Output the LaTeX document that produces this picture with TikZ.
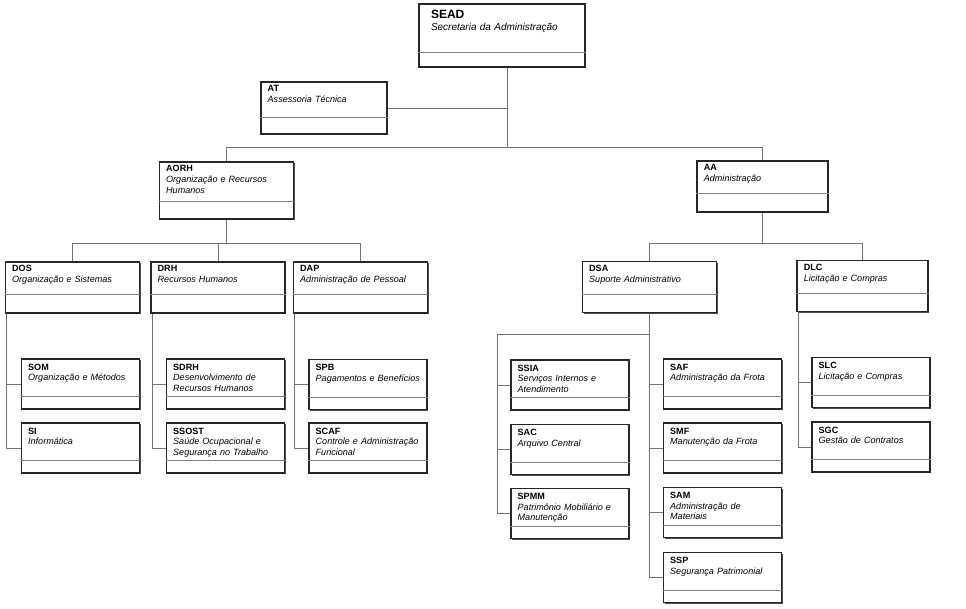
\documentclass[tikz,border=0pt]{standalone}
\usepackage{fontspec}
\setmainfont{Liberation Sans}
\usetikzlibrary{shadows}
\hyphenpenalty=10000
\exhyphenpenalty=10000
\newcommand{\orgunit}[2]{\textbf{#1}\\\textit{#2}}

\begin{document}
\begin{tikzpicture}[x=0.75pt, y=-0.75pt,
  unit/.style={draw=black!85, line width=1.1pt, fill=white, align=left,
    drop shadow={shadow xshift=1.1pt, shadow yshift=-1.1pt, fill=black!70, opacity=1},
    inner xsep=5pt, inner ysep=2pt, font=\fontsize{6.8}{8}\selectfont},
  div/.style={unit, text width=90.5pt, text height=5.5pt, text depth=28.75pt},
  sect/.style={unit, text width=78.5pt, text height=6.25pt, text depth=27.25pt},
  link/.style={draw=black!55, line width=0.6pt},
  sepline/.style={draw=black!50, line width=0.5pt}]
\useasboundingbox (0,0) rectangle (966,609);

% Top level
\node[unit, line width=1.8pt, inner xsep=9pt, text width=106.5pt, text height=9.25pt, text depth=34pt,
  font=\fontsize{7.5}{9}\selectfont] (SEAD) at (502,35.5)
  {\textbf{\fontsize{9}{9}\selectfont SEAD}\\\textit{Secretaria da Administração}};
\node[div, text width=84.5pt, text depth=29.5pt] (AT) at (324,108) {\orgunit{AT}{Assessoria Técnica}};
\node[div, text depth=33.25pt] (AORH) at (226.5,190.5) {\orgunit{AORH}{Organização e Recursos\\Humanos}};
\node[div, text width=88pt] (AA) at (762.5,186.5) {\orgunit{AA}{Administração}};

% AORH branch
\node[div] (DOS) at (72.5,287.5) {\orgunit{DOS}{Organização e Sistemas}};
\node[div] (DRH) at (218,287.5) {\orgunit{DRH}{Recursos Humanos}};
\node[div] (DAP) at (360.5,287.5) {\orgunit{DAP}{Administração de Pessoal}};
\node[sect] (SOM) at (80.5,384) {\orgunit{SOM}{Organização e Métodos}};
\node[sect] (SI) at (80.5,448) {\orgunit{SI}{Informática}};
\node[sect] (SDRH) at (225.5,384) {\orgunit{SDRH}{Desenvolvimento de\\Recursos Humanos}};
\node[sect] (SSOST) at (225.5,448) {\orgunit{SSOST}{Saúde Ocupacional e\\Segurança no Trabalho}};
\node[sect] (SPB) at (368,384.5) {\orgunit{SPB}{Pagamentos e Benefícios}};
\node[sect] (SCAF) at (368,448) {\orgunit{SCAF}{Controle e Administração\\Funcional}};

% AA branch
\node[div] (DSA) at (649.5,287) {\orgunit{DSA}{Suporte Administrativo}};
\node[div, text width=88pt] (DLC) at (862.5,286) {\orgunit{DLC}{Licitação e Compras}};
\node[sect] (SSIA) at (570,385) {\orgunit{SSIA}{Serviços Internos e\\Atendimento}};
\node[sect] (SAC) at (570,449.5) {\orgunit{SAC}{Arquivo Central}};
\node[sect] (SPMM) at (570,513.5) {\orgunit{SPMM}{Patrimônio Mobiliário e\\Manutenção}};
\node[sect] (SAF) at (722.5,384) {\orgunit{SAF}{Administração da Frota}};
\node[sect] (SMF) at (722.5,448) {\orgunit{SMF}{Manutenção da Frota}};
\node[sect] (SAM) at (722.5,512.5) {\orgunit{SAM}{Administração de\\Materiais}};
\node[sect] (SSP) at (722.5,577.5) {\orgunit{SSP}{Segurança Patrimonial}};
\node[sect] (SLC) at (871,382.5) {\orgunit{SLC}{Licitação e Compras}};
\node[sect] (SGC) at (871,447) {\orgunit{SGC}{Gestão de Contratos}};

% separators
\foreach \n/\h in {SEAD/12pt, AT/12.75pt, AORH/13.5pt, AA/14.25pt, DOS/14.25pt, DRH/14.25pt,
    DAP/14.25pt, DSA/14.25pt, DLC/14.25pt}
  \draw[sepline] ([yshift=\h]\n.south west) -- ([yshift=\h]\n.south east);
\foreach \n in {SOM, SI, SDRH, SSOST, SPB, SCAF, SSIA, SAC, SPMM, SAF, SMF, SAM, SSP, SLC, SGC}
  \draw[sepline] ([yshift=9.75pt]\n.south west) -- ([yshift=9.75pt]\n.south east);

% connectors
\coordinate (lvl1) at (0,147);
\coordinate (lvl2) at (0,243);
\coordinate (dsabus) at (497,334);
\draw[link] ([xshift=3.75pt]SEAD.south) |- (AT.east);
\draw[link] ([xshift=3.75pt]SEAD.south) -- ([xshift=3.75pt]SEAD.south |- lvl1);
\draw[link] (AORH.north) -- (AORH.north |- lvl1) -- (AA.north |- lvl1) -- (AA.north);
\draw[link] (AORH.south) -- (AORH.south |- lvl2);
\draw[link] (DOS.north) -- (DOS.north |- lvl2) -- (DAP.north |- lvl2) -- (DAP.north);
\draw[link] (DRH.north) -- (DRH.north |- lvl2);
\draw[link] (AA.south) -- (AA.south |- lvl2);
\draw[link] (DSA.north) -- (DSA.north |- lvl2) -- (DLC.north |- lvl2) -- (DLC.north);
\foreach \p/\c in {DOS/SOM, DOS/SI, DRH/SDRH, DRH/SSOST, DAP/SPB, DAP/SCAF, DLC/SLC, DLC/SGC}
  \draw[link] ([xshift=1.5pt]\p.south west) |- (\c.west);
\draw[link] (DSA.south) |- (dsabus) |- (SPMM.west);
\foreach \c in {SSIA, SAC}
  \draw[link] (dsabus |- \c.west) -- (\c.west);
\foreach \c in {SAF, SMF, SAM, SSP}
  \draw[link] (DSA.south) |- (\c.west);
\end{tikzpicture}
\end{document}
